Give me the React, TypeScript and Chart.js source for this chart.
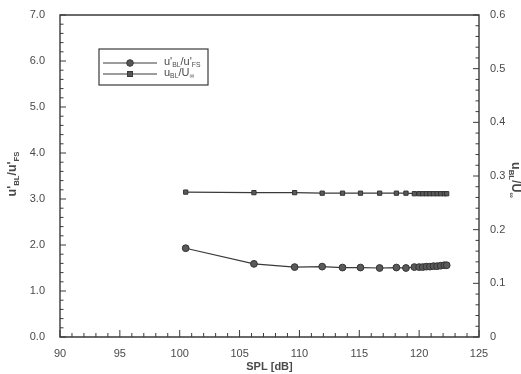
import React, { useEffect, useRef } from "react";
import { Chart, registerables } from "chart.js";

Chart.register(...registerables);

const splValues = [100.5, 106.2, 109.6, 111.9, 113.6, 115.1, 116.7, 118.1, 118.9, 119.6, 120.0, 120.3, 120.6, 120.9, 121.2, 121.5, 121.8, 122.1, 122.3];
const rmsRatio = [1.93, 1.59, 1.52, 1.53, 1.51, 1.51, 1.50, 1.51, 1.50, 1.52, 1.52, 1.52, 1.53, 1.53, 1.54, 1.54, 1.55, 1.56, 1.56];
const meanRatio = [0.270, 0.269, 0.269, 0.268, 0.268, 0.268, 0.268, 0.268, 0.268, 0.267, 0.267, 0.267, 0.267, 0.267, 0.267, 0.267, 0.267, 0.267, 0.267];

const xMin = 90, xMax = 125, xMajor = 5, xMinor = 1;
const yMin = 0, yMax = 7, yMajor = 1, yMinor = 0.2;
const y2Min = 0, y2Max = 0.6, y2Major = 0.1, y2Minor = 0.02;

const INK = "#3a3a3a";
const TEXT = "#4a4a4a";
const FONT = "Liberation Sans, Arial, sans-serif";

function drawSubText(ctx: CanvasRenderingContext2D, parts: { t: string; sub?: boolean }[], x: number, y: number, size: number, bold = false) {
  let cx = x;
  for (const p of parts) {
    const s = p.sub ? size * 0.62 : size;
    ctx.font = `${bold ? "bold " : ""}${s}px ${FONT}`;
    ctx.fillText(p.t, cx, p.sub ? y + size * 0.3 : y);
    cx += ctx.measureText(p.t).width;
  }
  return cx - x;
}
function measureSub(ctx: CanvasRenderingContext2D, parts: { t: string; sub?: boolean }[], size: number, bold = false) {
  let w = 0;
  for (const p of parts) {
    const s = p.sub ? size * 0.62 : size;
    ctx.font = `${bold ? "bold " : ""}${s}px ${FONT}`;
    w += ctx.measureText(p.t).width;
  }
  return w;
}

const leftTitle = [{ t: "u'" }, { t: "BL", sub: true }, { t: "/u'" }, { t: "FS", sub: true }];
const rightTitle = [{ t: "u" }, { t: "BL", sub: true }, { t: "/U" }, { t: "∞", sub: true }];

const decorPlugin = {
  id: "decor",
  afterDraw(chart: any) {
    const ctx: CanvasRenderingContext2D = chart.ctx;
    const { left, right, top, bottom } = chart.chartArea;
    const xs = chart.scales.x, ys = chart.scales.y, y2 = chart.scales.y2;
    ctx.save();
    ctx.strokeStyle = INK;
    // frame
    ctx.beginPath();
    ctx.rect(left, top, right - left, bottom - top);
    ctx.lineWidth = 1.4;
    ctx.stroke();
    ctx.lineWidth = 1;
    for (let v = xMin; v <= xMax + 1e-9; v += xMinor) {
      const px = xs.getPixelForValue(v);
      const major = Math.abs(v / xMajor - Math.round(v / xMajor)) < 1e-6;
      ctx.beginPath();
      ctx.moveTo(px, bottom);
      ctx.lineTo(px, bottom - (major ? 7 : 4));
      ctx.stroke();
    }
    for (let v = yMin; v <= yMax + 1e-9; v += yMinor) {
      const py = ys.getPixelForValue(v);
      const major = Math.abs(v / yMajor - Math.round(v / yMajor)) < 1e-6;
      ctx.beginPath();
      ctx.moveTo(left, py);
      ctx.lineTo(left + (major ? 6 : 3.5), py);
      ctx.stroke();
    }
    for (let v = y2Min; v <= y2Max + 1e-9; v += y2Minor) {
      const py = y2.getPixelForValue(v);
      const major = Math.abs(v / y2Major - Math.round(v / y2Major)) < 1e-6;
      ctx.beginPath();
      ctx.moveTo(right, py);
      ctx.lineTo(right - (major ? 6 : 3.5), py);
      ctx.stroke();
    }
    // axis titles
    ctx.fillStyle = TEXT;
    ctx.textBaseline = "middle";
    ctx.textAlign = "left";
    ctx.save();
    ctx.translate(13, 174);
    ctx.rotate(-Math.PI / 2);
    const lw = measureSub(ctx, leftTitle, 12.5, true);
    drawSubText(ctx, leftTitle, -lw / 2, 0, 12.5, true);
    ctx.restore();
    ctx.save();
    ctx.translate(515, 180);
    ctx.rotate(Math.PI / 2);
    const rw = measureSub(ctx, rightTitle, 12.5, true);
    drawSubText(ctx, rightTitle, -rw / 2, 0, 12.5, true);
    ctx.restore();
    // legend
    const bx = 99, by = 49, bw = 109, bh = 36;
    ctx.lineWidth = 1.2;
    ctx.strokeStyle = INK;
    ctx.strokeRect(bx, by, bw, bh);
    ctx.lineWidth = 1;
    const rows = [
      { y: 63, style: "circle", label: leftTitle },
      { y: 74, style: "rect", label: rightTitle },
    ];
    for (const r of rows) {
      ctx.beginPath();
      ctx.moveTo(103, r.y);
      ctx.lineTo(157, r.y);
      ctx.stroke();
      ctx.fillStyle = "#555";
      if (r.style === "circle") {
        ctx.beginPath();
        ctx.arc(130, r.y, 3.3, 0, Math.PI * 2);
        ctx.fill();
        ctx.stroke();
      } else {
        ctx.fillRect(127.5, r.y - 2.5, 5, 5);
        ctx.strokeRect(127.5, r.y - 2.5, 5, 5);
      }
      ctx.fillStyle = TEXT;
      drawSubText(ctx, r.label, 164, r.y - 1, 11);
    }
    ctx.restore();
  },
};

export default function App() {
  const ref = useRef<HTMLCanvasElement | null>(null);
  useEffect(() => {
    document.body.style.margin = "0";
    const canvas = ref.current!;
    const chart = new Chart(canvas, {
      type: "scatter",
      data: {
        datasets: [
          {
            label: "u'BL/u'FS",
            data: splValues.map((x, i) => ({ x, y: rmsRatio[i] })),
            yAxisID: "y",
            showLine: true,
            borderColor: INK,
            borderWidth: 1.2,
            pointStyle: "circle",
            pointRadius: 3.4,
            pointBackgroundColor: "#5a5a5a",
            pointBorderColor: "#333",
            pointBorderWidth: 1,
          },
          {
            label: "uBL/U∞",
            data: splValues.map((x, i) => ({ x, y: meanRatio[i] })),
            yAxisID: "y2",
            showLine: true,
            borderColor: INK,
            borderWidth: 1.2,
            pointStyle: "rect",
            pointRadius: 3,
            pointBackgroundColor: "#5a5a5a",
            pointBorderColor: "#333",
            pointBorderWidth: 1,
          },
        ],
      },
      options: {
        responsive: false,
        animation: false,
        layout: { padding: { top: 15, right: 0, bottom: 0, left: 0 } },
        plugins: { legend: { display: false }, tooltip: { enabled: false } },
        scales: {
          x: {
            type: "linear",
            min: xMin,
            max: xMax,
            grid: { display: false },
            border: { display: false },
            ticks: { stepSize: xMajor, color: TEXT, font: { family: FONT, size: 11 }, padding: 2, maxRotation: 0 },
            title: { display: true, text: "SPL [dB]", color: TEXT, font: { family: FONT, size: 11, weight: "bold" }, padding: { top: 1, bottom: 0 } },
            afterFit: (s: any) => { s.height = 37; },
          },
          y: {
            type: "linear",
            position: "left",
            min: yMin,
            max: yMax,
            grid: { display: false },
            border: { display: false },
            ticks: { stepSize: yMajor, color: TEXT, font: { family: FONT, size: 11 }, padding: 7, callback: (v: any) => Number(v).toFixed(1) },
            afterFit: (s: any) => { s.width = 60; },
          },
          y2: {
            type: "linear",
            position: "right",
            min: y2Min,
            max: y2Max,
            grid: { display: false },
            border: { display: false },
            ticks: { stepSize: y2Major, color: TEXT, font: { family: FONT, size: 11 }, padding: 3, callback: (v: any) => (Number(v) === 0 ? "0" : Number(v).toFixed(1)) },
            afterFit: (s: any) => { s.width = 42; },
          },
        },
      } as any,
      plugins: [decorPlugin],
    });
    return () => chart.destroy();
  }, []);
  return (
    <div style={{ width: 521, height: 374, background: "#fff" }}>
      <canvas ref={ref} width={521} height={374} />
    </div>
  );
}
